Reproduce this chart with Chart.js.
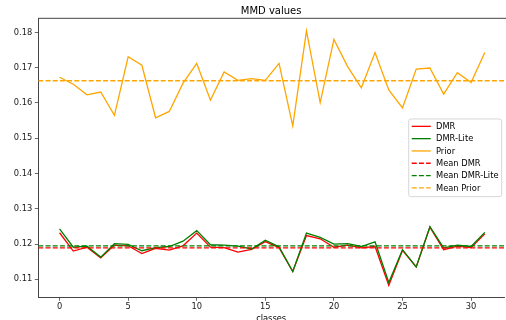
<!DOCTYPE html>
<html><head><meta charset="utf-8">
<script src="https://cdn.jsdelivr.net/npm/chart.js@4/dist/chart.umd.min.js"></script>
<style>
html,body{margin:0;padding:0;overflow:hidden;background:#fff;width:506px;height:320px}
#wrap{position:absolute;left:0;top:0;width:506px;height:330px}
</style>
</head><body><div id="wrap"><canvas id="c" width="506" height="330"></canvas></div>
<script>
const classes = [0,1,2,3,4,5,6,7,8,9,10,11,12,13,14,15,16,17,18,19,20,21,22,23,24,25,26,27,28,29,30,31];
const dmr = [0.1232,0.1180,0.1191,0.1161,0.1197,0.1195,0.1173,0.1188,0.1183,0.1195,0.1231,0.1191,0.1190,0.1177,0.1185,0.1207,0.1190,0.1122,0.1224,0.1215,0.1191,0.1197,0.1189,0.1193,0.1083,0.1182,0.1135,0.1248,0.1184,0.1194,0.1190,0.1229];
const dmrLite = [0.1243,0.1191,0.1194,0.1163,0.1201,0.1199,0.1181,0.1190,0.1193,0.1208,0.1238,0.1198,0.1197,0.1194,0.1186,0.1211,0.1192,0.1122,0.1231,0.1219,0.1200,0.1201,0.1193,0.1206,0.1091,0.1184,0.1135,0.1249,0.1189,0.1197,0.1193,0.1233];
const prior = [0.1673,0.1653,0.1623,0.1631,0.1565,0.1731,0.1707,0.1558,0.1576,0.1656,0.1712,0.1608,0.1688,0.1664,0.1669,0.1664,0.1712,0.1535,0.1804,0.1601,0.1780,0.1703,0.1643,0.1743,0.1637,0.1586,0.1696,0.1699,0.1625,0.1686,0.1658,0.1743];
const meanDMR = 0.1189;
const meanDMRLite = 0.1195;
const meanPrior = 0.1663;
const xTicks = [0,5,10,15,20,25,30];
const yTicks = [0.11,0.12,0.13,0.14,0.15,0.16,0.17,0.18];
const xMin = -1.55, xMax = 32.40;
const yMin = 0.1049, yMax = 0.1840;

const pts = arr => arr.map((v,i) => ({x: classes[i], y: v}));
const hline = v => [{x: xMin, y: v}, {x: xMax, y: v}];
const FONT = 'DejaVu Sans';
const DASH = [5, 2.2];

function lineDs(label, data, color, dash, order) {
  return {label, data, borderColor: color, backgroundColor: color, borderWidth: 1.3,
    borderDash: dash, pointRadius: 0, pointHoverRadius: 0, tension: 0, fill: false, order};
}

const frame = {
  id: 'frame',
  afterDatasetsDraw(chart) {
    const {ctx, chartArea: a} = chart;
    ctx.save();
    ctx.strokeStyle = '#444'; ctx.lineWidth = 1;
    ctx.beginPath();
    ctx.moveTo(a.left, a.top); ctx.lineTo(a.right + 2, a.top);
    ctx.stroke();
    const bw = 93, bh = 77.7;
    const bx = 408.7, by = (a.top + a.bottom) / 2 - bh / 2;
    const r = 2.5;
    ctx.beginPath();
    ctx.moveTo(bx + r, by);
    ctx.arcTo(bx + bw, by, bx + bw, by + bh, r);
    ctx.arcTo(bx + bw, by + bh, bx, by + bh, r);
    ctx.arcTo(bx, by + bh, bx, by, r);
    ctx.arcTo(bx, by, bx + bw, by, r);
    ctx.closePath();
    ctx.fillStyle = 'rgba(255,255,255,0.8)';
    ctx.fill();
    ctx.strokeStyle = '#cccccc'; ctx.lineWidth = 0.8;
    ctx.stroke();
    ctx.font = '8.3px "' + FONT + '"';
    ctx.textBaseline = 'middle';
    ctx.textAlign = 'left';
    chart.data.datasets.forEach((ds, i) => {
      const y = by + 7.4 + i * 12.3;
      ctx.strokeStyle = ds.borderColor;
      ctx.lineWidth = 1.3;
      ctx.setLineDash(ds.borderDash || []);
      ctx.beginPath();
      ctx.moveTo(bx + 3, y); ctx.lineTo(bx + 22, y);
      ctx.stroke();
      ctx.setLineDash([]);
      ctx.fillStyle = '#000';
      ctx.fillText(ds.label, bx + 27.3, y + 0.5);
    });
    ctx.restore();
  }
};

new Chart(document.getElementById('c'), {
  type: 'line',
  data: {
    datasets: [
      lineDs('DMR', pts(dmr), '#ff0000', [], 6),
      lineDs('DMR-Lite', pts(dmrLite), '#008000', [], 5),
      lineDs('Prior', pts(prior), '#ffa500', [], 4),
      lineDs('Mean DMR', hline(meanDMR), '#ff0000', DASH, 3),
      lineDs('Mean DMR-Lite', hline(meanDMRLite), '#008000', DASH, 2),
      lineDs('Mean Prior', hline(meanPrior), '#ffa500', DASH, 1)
    ]
  },
  options: {
    responsive: false,
    animation: false,
    devicePixelRatio: 1,
    layout: {padding: {left: 0, right: 2, top: 0, bottom: 0}},
    plugins: {
      legend: {display: false},
      tooltip: {enabled: false},
      title: {display: true, fullSize: false, text: 'MMD values', color: '#000',
        font: {family: FONT, size: 10, weight: 'normal'}, padding: {top: 5, bottom: 1.3}}
    },
    scales: {
      x: {
        type: 'linear', min: xMin, max: xMax,
        afterBuildTicks: s => { s.ticks = xTicks.map(v => ({value: v})); },
        afterFit: s => { s.height = 330 - 297.3; },
        ticks: {font: {family: FONT, size: 8.3}, color: '#222', padding: 1, maxRotation: 0, autoSkip: false,
          callback: v => String(v)},
        grid: {display: true, drawOnChartArea: false, drawTicks: true, tickLength: 3.5, color: '#444', lineWidth: 0.8},
        border: {display: true, color: '#444', width: 1},
        title: {display: true, text: 'classes', color: '#000', font: {family: FONT, size: 8.3},
          padding: {top: 0, bottom: 6}}
      },
      y: {
        type: 'linear', min: yMin, max: yMax,
        afterBuildTicks: s => { s.ticks = yTicks.map(v => ({value: v})); },
        afterFit: s => { s.width = 38.3; },
        ticks: {font: {family: FONT, size: 8.3}, color: '#222', padding: 2.5, callback: v => v.toFixed(2)},
        grid: {display: true, drawOnChartArea: false, drawTicks: true, tickLength: 3.5, color: '#444', lineWidth: 0.8},
        border: {display: true, color: '#444', width: 1}
      }
    }
  },
  plugins: [frame]
});
</script></body></html>
